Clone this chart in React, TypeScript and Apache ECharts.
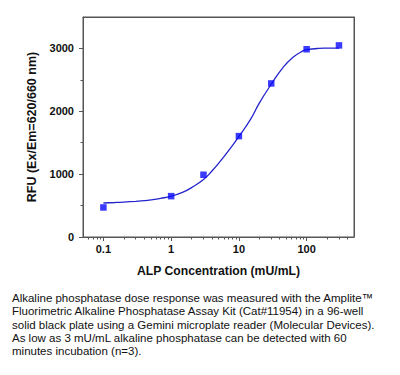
import React, { useEffect, useRef } from "react";
import * as echarts from "echarts";

const concentrations = [0.1, 1, 3, 10, 30, 100, 300];
const rfuValues = [470, 650, 990, 1605, 2443, 2987, 3048];

const curveConcentrations = [0.1, 0.15, 0.2, 0.3, 0.4, 0.5, 0.7, 1, 1.5, 2, 3, 4, 5, 7, 10, 15, 20, 30, 45, 63, 88, 100, 150, 200, 300];
const curveRfu = [541, 549, 556, 568, 578, 590, 615, 650, 715, 785, 915, 1050, 1170, 1370, 1600, 1880, 2130, 2430, 2700, 2860, 2960, 2980, 3000, 3004, 3006];

const xMajorTicks = [0.1, 1, 10, 100];
const xMinorTicks = [0.06, 0.07, 0.08, 0.09, 0.2, 0.3, 0.4, 0.5, 0.6, 0.7, 0.8, 0.9, 2, 3, 4, 5, 6, 7, 8, 9, 20, 30, 40, 50, 60, 70, 80, 90, 200, 300, 400];
const xMin = 0.05;
const xMax = 500;
const yMajorTicks = [0, 1000, 2000, 3000];
const yMinorTicks = [500, 1500, 2500];
const yMax = 3500;

const xAxisName = "ALP Concentration (mU/mL)";
const yAxisName = "RFU (Ex/Em=620/660 nm)";

const captionLines = [
  "Alkaline phosphatase dose response was measured with the Amplite\u2122",
  "Fluorimetric Alkaline Phosphatase Assay Kit (Cat#11954) in a 96-well",
  "solid black plate using a Gemini microplate reader (Molecular Devices).",
  "As low as 3 mU/mL alkaline phosphatase can be detected with 60",
  "minutes incubation (n=3).",
];

const FONT = 'Arial, "Liberation Sans", sans-serif';
const AXIS_COLOR = "#555555";
const lg = (v: number) => Math.log10(v);

export default function App() {
  const ref = useRef<HTMLDivElement>(null);
  useEffect(() => {
    if (!ref.current) return;
    const chart = echarts.init(ref.current, null, { renderer: "svg" });
    const fmt = (v: number) => {
      const p = Math.round(v);
      return p < 0 ? Math.pow(10, p).toFixed(-p) : String(Math.pow(10, p));
    };
    const xBase = {
      type: "value" as const,
      min: lg(xMin),
      max: lg(xMax),
      splitLine: { show: false },
    };
    const yBase = {
      type: "value" as const,
      min: 0,
      max: yMax,
      offset: 0,
      splitLine: { show: false },
    };
    const hiddenLabel = { show: false };
    const noTick = { show: false };
    const ls = () => ({ color: AXIS_COLOR, width: 1 });
    chart.setOption({
      animation: false,
      backgroundColor: "#fff",
      grid: {
        left: 83,
        right: 46,
        top: 17,
        bottom: 138,
        containLabel: false,
        show: true,
        backgroundColor: "transparent",
        borderColor: AXIS_COLOR,
        borderWidth: 1,
      },
      xAxis: [
        {
          ...xBase,
          position: "bottom",
          name: xAxisName,
          nameLocation: "middle",
          nameGap: 28,
          nameTextStyle: { fontFamily: FONT, fontWeight: "bold", fontSize: 12.2, color: "#111" },
          axisLine: { show: true, onZero: false, lineStyle: ls() },
          axisTick: { show: true, inside: false, length: 4, lineStyle: ls(), customValues: xMajorTicks.map(lg) },
          axisLabel: {
            show: true,
            margin: 6,
            fontFamily: FONT,
            fontWeight: "bold",
            fontSize: 11,
            color: "#111",
            customValues: xMajorTicks.map(lg),
            formatter: (v: number) => fmt(v),
          },
        },
        {
          ...xBase,
          position: "bottom",
          axisLine: { show: false, onZero: false },
          axisTick: { show: true, inside: false, length: 2.5, lineStyle: ls(), customValues: xMinorTicks.map(lg) },
          axisLabel: hiddenLabel,
        },
        {
          ...xBase,
          position: "top",
          axisLine: { show: true, onZero: false, lineStyle: ls() },
          axisTick: noTick,
          axisLabel: hiddenLabel,
        },
      ],
      yAxis: [
        {
          ...yBase,
          position: "left",
          name: yAxisName,
          nameLocation: "middle",
          nameGap: 45,
          nameRotate: 90,
          nameTextStyle: { fontFamily: FONT, fontWeight: "bold", fontSize: 12.5, color: "#111" },
          axisLine: { show: true, onZero: false, lineStyle: ls() },
          axisTick: { show: true, inside: false, length: 4, lineStyle: ls(), customValues: yMajorTicks },
          axisLabel: {
            show: true,
            margin: 9,
            fontFamily: FONT,
            fontWeight: "bold",
            fontSize: 11,
            color: "#111",
            customValues: yMajorTicks,
            formatter: (v: number) => String(v),
          },
        },
        {
          ...yBase,
          position: "left",
          axisLine: { show: false, onZero: false },
          axisTick: { show: true, inside: false, length: 2.5, lineStyle: ls(), customValues: yMinorTicks },
          axisLabel: hiddenLabel,
        },
        {
          ...yBase,
          position: "right",
          axisLine: { show: true, onZero: false, lineStyle: ls() },
          axisTick: noTick,
          axisLabel: hiddenLabel,
        },
      ],
      series: [
        {
          type: "line",
          xAxisIndex: 0,
          yAxisIndex: 0,
          data: curveConcentrations.map((c, i) => [lg(c), curveRfu[i]]),
          smooth: 0.5,
          showSymbol: false,
          symbol: "none",
          lineStyle: { color: "#2424cc", width: 1.3 },
          silent: true,
          z: 2,
        },
        {
          type: "scatter",
          xAxisIndex: 0,
          yAxisIndex: 0,
          data: concentrations.map((c, i) => [lg(c), rfuValues[i]]),
          symbol: "rect",
          symbolSize: 6.5,
          itemStyle: { color: "#0a0aff" },
          z: 3,
        },
      ],
      graphic: captionLines.map((line, i) => ({
        type: "text",
        left: 12,
        top: 292 + i * 13.35,
        style: {
          text: line,
          fontFamily: FONT,
          fontSize: 11.5,
          fill: "#111",
        },
      })),
    });
    return () => chart.dispose();
  }, []);
  return (
    <div
      ref={ref}
      style={{ position: "fixed", left: 0, top: 0, width: 400, height: 375, background: "#fff" }}
    />
  );
}
